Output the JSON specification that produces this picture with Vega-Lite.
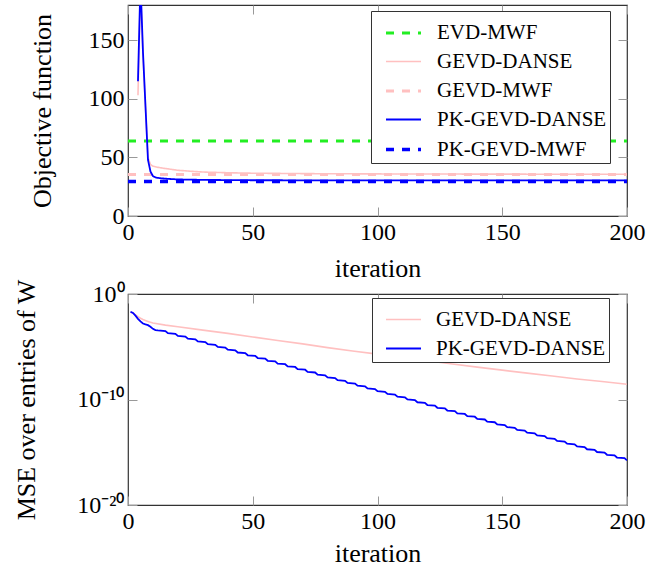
{
  "$schema": "https://vega.github.io/schema/vega-lite/v6.json",
  "autosize": {"type": "none"},
  "padding": {"left": 128, "top": 5, "right": 532, "bottom": 569},
  "background": "white",
  "datasets": {
    "top": [
      {"i": 0, "v": 64, "s": "EVD-MWF"}, {"i": 200, "v": 64, "s": "EVD-MWF"},
      {"i": 0, "v": 35.5, "s": "GEVD-MWF"}, {"i": 200, "v": 35.5, "s": "GEVD-MWF"},
      {"i": 4, "v": 103, "s": "GEVD-DANSE"}, {"i": 5, "v": 195, "s": "GEVD-DANSE"}, {"i": 6, "v": 138, "s": "GEVD-DANSE"}, {"i": 7, "v": 93, "s": "GEVD-DANSE"}, {"i": 8, "v": 50, "s": "GEVD-DANSE"}, {"i": 9, "v": 44, "s": "GEVD-DANSE"}, {"i": 10, "v": 42.5, "s": "GEVD-DANSE"}, {"i": 12, "v": 41.5, "s": "GEVD-DANSE"}, {"i": 15, "v": 40.5, "s": "GEVD-DANSE"}, {"i": 20, "v": 39, "s": "GEVD-DANSE"}, {"i": 25, "v": 38.2, "s": "GEVD-DANSE"}, {"i": 30, "v": 37.5, "s": "GEVD-DANSE"}, {"i": 40, "v": 36.9, "s": "GEVD-DANSE"}, {"i": 50, "v": 36.5, "s": "GEVD-DANSE"}, {"i": 75, "v": 36.1, "s": "GEVD-DANSE"}, {"i": 100, "v": 35.9, "s": "GEVD-DANSE"}, {"i": 150, "v": 35.7, "s": "GEVD-DANSE"}, {"i": 200, "v": 35.6, "s": "GEVD-DANSE"},
      {"i": 0, "v": 29.4, "s": "PK-GEVD-MWF"}, {"i": 200, "v": 29.4, "s": "PK-GEVD-MWF"},
      {"i": 4, "v": 115, "s": "PK-GEVD-DANSE"}, {"i": 5, "v": 200, "s": "PK-GEVD-DANSE"}, {"i": 6, "v": 140, "s": "PK-GEVD-DANSE"}, {"i": 7, "v": 94, "s": "PK-GEVD-DANSE"}, {"i": 8, "v": 48, "s": "PK-GEVD-DANSE"}, {"i": 9, "v": 38, "s": "PK-GEVD-DANSE"}, {"i": 10, "v": 34, "s": "PK-GEVD-DANSE"}, {"i": 11, "v": 33, "s": "PK-GEVD-DANSE"}, {"i": 12, "v": 32.5, "s": "PK-GEVD-DANSE"}, {"i": 15, "v": 31.8, "s": "PK-GEVD-DANSE"}, {"i": 20, "v": 31.2, "s": "PK-GEVD-DANSE"}, {"i": 30, "v": 30.8, "s": "PK-GEVD-DANSE"}, {"i": 50, "v": 30.5, "s": "PK-GEVD-DANSE"}, {"i": 100, "v": 30.4, "s": "PK-GEVD-DANSE"}, {"i": 200, "v": 30.4, "s": "PK-GEVD-DANSE"}
    ],
    "bottom": [
      {"i": 1, "v": 1.905e-2, "s": "GEVD-DANSE"}, {"i": 2, "v": 1.585e-2, "s": "GEVD-DANSE"}, {"i": 3, "v": 1.047e-2, "s": "GEVD-DANSE"}, {"i": 4, "v": 7.08e-3, "s": "GEVD-DANSE"}, {"i": 5, "v": 5.01e-3, "s": "GEVD-DANSE"}, {"i": 6, "v": 3.80e-3, "s": "GEVD-DANSE"}, {"i": 7, "v": 3.02e-3, "s": "GEVD-DANSE"}, {"i": 8, "v": 2.51e-3, "s": "GEVD-DANSE"}, {"i": 10, "v": 1.778e-3, "s": "GEVD-DANSE"}, {"i": 15, "v": 1.122e-3, "s": "GEVD-DANSE"}, {"i": 20, "v": 7.94e-4, "s": "GEVD-DANSE"}, {"i": 30, "v": 3.80e-4, "s": "GEVD-DANSE"}, {"i": 40, "v": 1.862e-4, "s": "GEVD-DANSE"}, {"i": 50, "v": 8.51e-5, "s": "GEVD-DANSE"}, {"i": 60, "v": 3.98e-5, "s": "GEVD-DANSE"}, {"i": 70, "v": 1.862e-5, "s": "GEVD-DANSE"}, {"i": 80, "v": 8.32e-6, "s": "GEVD-DANSE"}, {"i": 90, "v": 3.98e-6, "s": "GEVD-DANSE"}, {"i": 100, "v": 2.0e-6, "s": "GEVD-DANSE"}, {"i": 110, "v": 9.77e-7, "s": "GEVD-DANSE"}, {"i": 120, "v": 4.79e-7, "s": "GEVD-DANSE"}, {"i": 130, "v": 2.34e-7, "s": "GEVD-DANSE"}, {"i": 140, "v": 1.175e-7, "s": "GEVD-DANSE"}, {"i": 150, "v": 6.03e-8, "s": "GEVD-DANSE"}, {"i": 160, "v": 3.16e-8, "s": "GEVD-DANSE"}, {"i": 170, "v": 1.66e-8, "s": "GEVD-DANSE"}, {"i": 180, "v": 8.91e-9, "s": "GEVD-DANSE"}, {"i": 190, "v": 5.01e-9, "s": "GEVD-DANSE"}, {"i": 200, "v": 2.82e-9, "s": "GEVD-DANSE"},
      {"i": 1, "v": 2.09e-2, "s": "PK-GEVD-DANSE"}, {"i": 2, "v": 1.585e-2, "s": "PK-GEVD-DANSE"}, {"i": 3, "v": 8.91e-3, "s": "PK-GEVD-DANSE"}, {"i": 4, "v": 4.47e-3, "s": "PK-GEVD-DANSE"}, {"i": 5, "v": 2.51e-3, "s": "PK-GEVD-DANSE"}, {"i": 6, "v": 1.585e-3, "s": "PK-GEVD-DANSE"}, {"i": 7, "v": 1.318e-3, "s": "PK-GEVD-DANSE"}, {"i": 8, "v": 1.122e-3, "s": "PK-GEVD-DANSE"}, {"i": 9, "v": 7.94e-4, "s": "PK-GEVD-DANSE"}, {"i": 10, "v": 5.01e-4, "s": "PK-GEVD-DANSE"}, {"i": 11, "v": 3.80e-4, "s": "PK-GEVD-DANSE"},
      {"i": 12, "v": 3.548e-4, "s": "PK-GEVD-DANSE"}, {"i": 15, "v": 3.09e-4, "s": "PK-GEVD-DANSE"},
      {"i": 16, "v": 1.94e-4, "s": "PK-GEVD-DANSE"}, {"i": 19, "v": 1.69e-4, "s": "PK-GEVD-DANSE"},
      {"i": 20, "v": 1.062e-4, "s": "PK-GEVD-DANSE"}, {"i": 23, "v": 9.25e-5, "s": "PK-GEVD-DANSE"},
      {"i": 24, "v": 5.81e-5, "s": "PK-GEVD-DANSE"}, {"i": 27, "v": 5.06e-5, "s": "PK-GEVD-DANSE"},
      {"i": 28, "v": 3.18e-5, "s": "PK-GEVD-DANSE"}, {"i": 31, "v": 2.77e-5, "s": "PK-GEVD-DANSE"},
      {"i": 32, "v": 1.738e-5, "s": "PK-GEVD-DANSE"}, {"i": 35, "v": 1.514e-5, "s": "PK-GEVD-DANSE"},
      {"i": 36, "v": 9.51e-6, "s": "PK-GEVD-DANSE"}, {"i": 39, "v": 8.28e-6, "s": "PK-GEVD-DANSE"},
      {"i": 40, "v": 5.20e-6, "s": "PK-GEVD-DANSE"}, {"i": 43, "v": 4.53e-6, "s": "PK-GEVD-DANSE"},
      {"i": 44, "v": 2.84e-6, "s": "PK-GEVD-DANSE"}, {"i": 47, "v": 2.48e-6, "s": "PK-GEVD-DANSE"},
      {"i": 48, "v": 1.556e-6, "s": "PK-GEVD-DANSE"}, {"i": 51, "v": 1.355e-6, "s": "PK-GEVD-DANSE"},
      {"i": 52, "v": 8.51e-7, "s": "PK-GEVD-DANSE"}, {"i": 55, "v": 7.41e-7, "s": "PK-GEVD-DANSE"},
      {"i": 56, "v": 4.66e-7, "s": "PK-GEVD-DANSE"}, {"i": 59, "v": 4.06e-7, "s": "PK-GEVD-DANSE"},
      {"i": 60, "v": 2.55e-7, "s": "PK-GEVD-DANSE"}, {"i": 63, "v": 2.22e-7, "s": "PK-GEVD-DANSE"},
      {"i": 64, "v": 1.393e-7, "s": "PK-GEVD-DANSE"}, {"i": 67, "v": 1.213e-7, "s": "PK-GEVD-DANSE"},
      {"i": 68, "v": 7.62e-8, "s": "PK-GEVD-DANSE"}, {"i": 71, "v": 6.64e-8, "s": "PK-GEVD-DANSE"},
      {"i": 72, "v": 4.17e-8, "s": "PK-GEVD-DANSE"}, {"i": 75, "v": 3.63e-8, "s": "PK-GEVD-DANSE"},
      {"i": 76, "v": 2.28e-8, "s": "PK-GEVD-DANSE"}, {"i": 79, "v": 1.986e-8, "s": "PK-GEVD-DANSE"},
      {"i": 80, "v": 1.247e-8, "s": "PK-GEVD-DANSE"}, {"i": 83, "v": 1.086e-8, "s": "PK-GEVD-DANSE"},
      {"i": 84, "v": 6.82e-9, "s": "PK-GEVD-DANSE"}, {"i": 87, "v": 5.94e-9, "s": "PK-GEVD-DANSE"},
      {"i": 88, "v": 3.73e-9, "s": "PK-GEVD-DANSE"}, {"i": 91, "v": 3.25e-9, "s": "PK-GEVD-DANSE"},
      {"i": 92, "v": 2.04e-9, "s": "PK-GEVD-DANSE"}, {"i": 95, "v": 1.778e-9, "s": "PK-GEVD-DANSE"},
      {"i": 96, "v": 1.117e-9, "s": "PK-GEVD-DANSE"}, {"i": 99, "v": 9.73e-10, "s": "PK-GEVD-DANSE"},
      {"i": 100, "v": 6.11e-10, "s": "PK-GEVD-DANSE"}, {"i": 103, "v": 5.32e-10, "s": "PK-GEVD-DANSE"},
      {"i": 104, "v": 3.34e-10, "s": "PK-GEVD-DANSE"}, {"i": 107, "v": 2.91e-10, "s": "PK-GEVD-DANSE"},
      {"i": 108, "v": 1.828e-10, "s": "PK-GEVD-DANSE"}, {"i": 111, "v": 1.592e-10, "s": "PK-GEVD-DANSE"},
      {"i": 112, "v": 1.0e-10, "s": "PK-GEVD-DANSE"}, {"i": 115, "v": 8.71e-11, "s": "PK-GEVD-DANSE"},
      {"i": 116, "v": 5.47e-11, "s": "PK-GEVD-DANSE"}, {"i": 119, "v": 4.76e-11, "s": "PK-GEVD-DANSE"},
      {"i": 120, "v": 2.99e-11, "s": "PK-GEVD-DANSE"}, {"i": 123, "v": 2.61e-11, "s": "PK-GEVD-DANSE"},
      {"i": 124, "v": 1.637e-11, "s": "PK-GEVD-DANSE"}, {"i": 127, "v": 1.426e-11, "s": "PK-GEVD-DANSE"},
      {"i": 128, "v": 8.95e-12, "s": "PK-GEVD-DANSE"}, {"i": 131, "v": 7.80e-12, "s": "PK-GEVD-DANSE"},
      {"i": 132, "v": 4.90e-12, "s": "PK-GEVD-DANSE"}, {"i": 135, "v": 4.27e-12, "s": "PK-GEVD-DANSE"},
      {"i": 136, "v": 2.68e-12, "s": "PK-GEVD-DANSE"}, {"i": 139, "v": 2.33e-12, "s": "PK-GEVD-DANSE"},
      {"i": 140, "v": 1.466e-12, "s": "PK-GEVD-DANSE"}, {"i": 143, "v": 1.276e-12, "s": "PK-GEVD-DANSE"},
      {"i": 144, "v": 8.02e-13, "s": "PK-GEVD-DANSE"}, {"i": 147, "v": 6.98e-13, "s": "PK-GEVD-DANSE"},
      {"i": 148, "v": 4.39e-13, "s": "PK-GEVD-DANSE"}, {"i": 151, "v": 3.82e-13, "s": "PK-GEVD-DANSE"},
      {"i": 152, "v": 2.40e-13, "s": "PK-GEVD-DANSE"}, {"i": 155, "v": 2.09e-13, "s": "PK-GEVD-DANSE"},
      {"i": 156, "v": 1.312e-13, "s": "PK-GEVD-DANSE"}, {"i": 159, "v": 1.143e-13, "s": "PK-GEVD-DANSE"},
      {"i": 160, "v": 7.18e-14, "s": "PK-GEVD-DANSE"}, {"i": 163, "v": 6.25e-14, "s": "PK-GEVD-DANSE"},
      {"i": 164, "v": 3.93e-14, "s": "PK-GEVD-DANSE"}, {"i": 167, "v": 3.42e-14, "s": "PK-GEVD-DANSE"},
      {"i": 168, "v": 2.15e-14, "s": "PK-GEVD-DANSE"}, {"i": 171, "v": 1.871e-14, "s": "PK-GEVD-DANSE"},
      {"i": 172, "v": 1.175e-14, "s": "PK-GEVD-DANSE"}, {"i": 175, "v": 1.023e-14, "s": "PK-GEVD-DANSE"},
      {"i": 176, "v": 6.43e-15, "s": "PK-GEVD-DANSE"}, {"i": 179, "v": 5.60e-15, "s": "PK-GEVD-DANSE"},
      {"i": 180, "v": 3.52e-15, "s": "PK-GEVD-DANSE"}, {"i": 183, "v": 3.06e-15, "s": "PK-GEVD-DANSE"},
      {"i": 184, "v": 1.923e-15, "s": "PK-GEVD-DANSE"}, {"i": 187, "v": 1.675e-15, "s": "PK-GEVD-DANSE"},
      {"i": 188, "v": 1.052e-15, "s": "PK-GEVD-DANSE"}, {"i": 191, "v": 9.16e-16, "s": "PK-GEVD-DANSE"},
      {"i": 192, "v": 5.75e-16, "s": "PK-GEVD-DANSE"}, {"i": 195, "v": 5.01e-16, "s": "PK-GEVD-DANSE"},
      {"i": 196, "v": 3.15e-16, "s": "PK-GEVD-DANSE"}, {"i": 199, "v": 2.74e-16, "s": "PK-GEVD-DANSE"},
      {"i": 200, "v": 1.722e-16, "s": "PK-GEVD-DANSE"}
    ]
  },
  "vconcat": [
    {
      "width": 499,
      "height": 211,
      "data": {"name": "top"},
      "layer": [
        {
          "mark": {"type": "line", "clip": true},
          "encoding": {
            "x": {"field": "i", "type": "quantitative", "scale": {"domain": [0, 200], "nice": false},
                  "axis": {"orient": "bottom", "values": [0, 50, 100, 150, 200], "title": "iteration", "titlePadding": 11,
                           "labelFont": "Liberation Serif", "labelFontSize": 24, "labelPadding": 13}},
            "y": {"field": "v", "type": "quantitative", "scale": {"domain": [0, 180], "nice": false, "zero": false},
                  "axis": {"orient": "left", "values": [0, 50, 100, 150], "title": "Objective function", "titleX": -73,
                           "labelFont": "Liberation Serif", "labelFontSize": 24, "labelPadding": 13}},
            "color": {"field": "s", "type": "nominal",
                      "scale": {"domain": ["EVD-MWF", "GEVD-DANSE", "GEVD-MWF", "PK-GEVD-DANSE", "PK-GEVD-MWF"],
                                "range": ["#22ee22", "#ffc0c0", "#ffc0c0", "#0000ff", "#0000ff"]},
                      "legend": {"title": null, "labelExpr": "datum.label + '\u00a0\u00a0'", "labelLimit": 400, "rowPadding": -4, "symbolSize": 1225, "orient": "none", "legendX": 243, "legendY": 6}},
            "strokeDash": {"field": "s", "type": "nominal",
                      "scale": {"domain": ["EVD-MWF", "GEVD-DANSE", "GEVD-MWF", "PK-GEVD-DANSE", "PK-GEVD-MWF"],
                                "range": [[8, 8], [1, 0], [8, 8], [1, 0], [8, 8]]},
                      "legend": {"title": null, "labelExpr": "datum.label + '\u00a0\u00a0'", "labelLimit": 400, "rowPadding": -4, "symbolSize": 1225, "orient": "none", "legendX": 243, "legendY": 6}},
            "strokeWidth": {"field": "s", "type": "ordinal",
                      "scale": {"type": "ordinal", "domain": ["EVD-MWF", "GEVD-DANSE", "GEVD-MWF", "PK-GEVD-DANSE", "PK-GEVD-MWF"],
                                "range": [3, 1.6, 3, 1.8, 3.5]},
                      "legend": {"title": null, "labelExpr": "datum.label + '\u00a0\u00a0'", "labelLimit": 400, "rowPadding": -4, "symbolSize": 1225, "orient": "none", "legendX": 243, "legendY": 6}}
          }
        },
        {
          "mark": {"type": "line", "opacity": 0},
          "encoding": {
            "x": {"field": "i", "type": "quantitative",
                  "axis": {"orient": "top", "values": [0, 50, 100, 150, 200], "labels": false, "title": null}},
            "y": {"field": "v", "type": "quantitative",
                  "axis": {"orient": "right", "values": [0, 50, 100, 150], "labels": false, "title": null}}
          }
        }
      ],
      "resolve": {"axis": {"x": "independent", "y": "independent"}}
    },
    {
      "width": 499,
      "height": 211,
      "data": {"name": "bottom"},
      "layer": [
        {
          "mark": {"type": "line", "clip": true},
          "encoding": {
            "x": {"field": "i", "type": "quantitative", "scale": {"domain": [0, 200], "nice": false},
                  "axis": {"orient": "bottom", "values": [0, 50, 100, 150, 200], "title": "iteration", "titlePadding": 7,
                           "labelFont": "Liberation Serif", "labelFontSize": 24, "labelPadding": 13}},
            "y": {"field": "v", "type": "quantitative", "scale": {"type": "log", "domain": [1e-20, 1], "nice": false},
                  "axis": {"orient": "left", "values": [1e-20, 1e-10, 1], "title": "MSE over entries of W", "titleX": -89,
                           "labelFont": "Liberation Serif", "labelFontSize": 24, "labelPadding": 13,
                           "labelExpr": "datum.value > 0.1 ? '10⁰' : (datum.value > 1e-15 ? '10⁻¹⁰' : '10⁻²⁰')"}},
            "color": {"field": "s", "type": "nominal",
                      "scale": {"domain": ["GEVD-DANSE", "PK-GEVD-DANSE"], "range": ["#ffc0c0", "#0000ff"]},
                      "legend": {"title": null, "labelExpr": "datum.label + '\u00a0\u00a0'", "labelLimit": 400, "rowPadding": -4, "symbolSize": 1225, "orient": "none", "legendX": 244, "legendY": 4}},
            "strokeWidth": {"field": "s", "type": "ordinal",
                      "scale": {"type": "ordinal", "domain": ["GEVD-DANSE", "PK-GEVD-DANSE"], "range": [1.6, 1.8]},
                      "legend": {"title": null, "labelExpr": "datum.label + '\u00a0\u00a0'", "labelLimit": 400, "rowPadding": -4, "symbolSize": 1225, "orient": "none", "legendX": 244, "legendY": 4}}
          }
        },
        {
          "mark": {"type": "line", "opacity": 0},
          "encoding": {
            "x": {"field": "i", "type": "quantitative",
                  "axis": {"orient": "top", "values": [0, 50, 100, 150, 200], "labels": false, "title": null}},
            "y": {"field": "v", "type": "quantitative",
                  "axis": {"orient": "right", "values": [1e-20, 1e-10, 1], "labels": false, "title": null}}
          }
        }
      ],
      "resolve": {"axis": {"x": "independent", "y": "independent"}}
    }
  ],
  "spacing": 78,
  "bounds": "flush",
  "resolve": {"scale": {"color": "independent", "strokeDash": "independent", "strokeWidth": "independent"}},
  "config": {
    "view": {"stroke": "#333333", "strokeWidth": 1.2},
    "line": {"strokeCap": "butt"},
    "axis": {
      "domain": false,
      "grid": false,
      "ticks": true,
      "tickSize": -9,
      "tickColor": "#999999",
      "tickWidth": 1,
      "labelPadding": 13,
      "labelFlush": false,
      "labelOverlap": false,
      "labelFont": "Liberation Serif",
      "labelFontSize": 24,
      "labelColor": "black",
      "titleFont": "Liberation Serif",
      "titleFontSize": 26,
      "titleFontWeight": "normal",
      "titleColor": "black",
      "titlePadding": 8
    },
    "legend": {
      "fillColor": "white",
      "strokeColor": "#333333",
      "strokeWidth": 1,
      "padding": 3,
      "symbolType": "stroke",
      "symbolSize": 1225,
      "symbolOffset": 10,
      "labelOffset": 14,
      "labelLimit": 400,
      "labelFont": "Liberation Serif",
      "labelFontSize": 21,
      "labelColor": "black",
      "rowPadding": -4,
      "cornerRadius": 0
    }
  }
}
